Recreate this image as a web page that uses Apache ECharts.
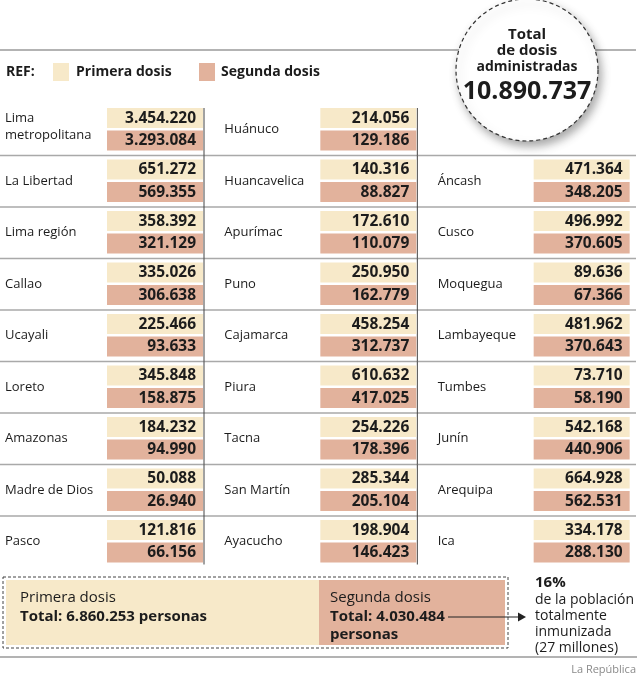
<!DOCTYPE html>
<html>
<head>
<meta charset="utf-8">
<script src="https://cdn.jsdelivr.net/npm/echarts@6/dist/echarts.min.js"></script>
<style>
html,body{margin:0;padding:0;background:#fff;}
#chart{width:640px;height:677px;}
</style>
</head>
<body>
<div id="chart"></div>
<script>
// ---- Data ----
const col0Names = ['Lima\nmetropolitana', 'La Libertad', 'Lima región', 'Callao', 'Ucayali', 'Loreto', 'Amazonas', 'Madre de Dios', 'Pasco'];
const col0Primera = [3454220, 651272, 358392, 335026, 225466, 345848, 184232, 50088, 121816];
const col0Segunda = [3293084, 569355, 321129, 306638, 93633, 158875, 94990, 26940, 66156];

const col1Names = ['Huánuco', 'Huancavelica', 'Apurímac', 'Puno', 'Cajamarca', 'Piura', 'Tacna', 'San Martín', 'Ayacucho'];
const col1Primera = [214056, 140316, 172610, 250950, 458254, 610632, 254226, 285344, 198904];
const col1Segunda = [129186, 88827, 110079, 162779, 312737, 417025, 178396, 205104, 146423];

// column 2 starts at row 1 (row 0 holds the total circle)
const col2Names = ['Áncash', 'Cusco', 'Moquegua', 'Lambayeque', 'Tumbes', 'Junín', 'Arequipa', 'Ica'];
const col2Primera = [471364, 496992, 89636, 481962, 73710, 542168, 664928, 334178];
const col2Segunda = [348205, 370605, 67366, 370643, 58190, 440906, 562531, 288130];

const totalDosis = '10.890.737';
const totalPrimera = '6.860.253';
const totalSegunda = '4.030.484';
const porcentaje = '16%';

// ---- Styles ----
const C_PRIMERA = '#f7e9c9';
const C_SEGUNDA = '#e2b29c';
const C_TEXT = '#1c1c1c';
const C_SEP = '#a9a9a9';
const FONT = '"Open Sans", "Noto Sans", sans-serif';

function fmt(v) { return String(v).replace(/\B(?=(\d{3})+(?!\d))/g, '.'); }

const rows = [];
function addCol(col, startRow, names, p, s) {
  names.forEach((n, i) => rows.push([col, startRow + i, p[i], s[i], n]));
}
addCol(0, 0, col0Names, col0Primera, col0Segunda);
addCol(1, 0, col1Names, col1Primera, col1Segunda);
addCol(2, 1, col2Names, col2Primera, col2Segunda);

const NROWS = 9;

function renderItem(params, api) {
  const col = api.value(0), row = api.value(1);
  const name = rows[params.dataIndex][4];
  const p = api.coord([col, row]);
  const sz = api.size([1, 1]);
  const bandH = sz[1];
  const x0 = p[0], y0 = p[1];
  const cellX = x0 + 107, cellW = 96, cellH = 20;
  const labelX = x0 + (col === 0 ? 5 : 11);
  const children = [];
  if (col === 0 && row < NROWS - 1) {
    children.push({
      type: 'line',
      shape: { x1: x0, y1: y0 + bandH, x2: x0 + 636, y2: y0 + bandH },
      style: { stroke: C_SEP, lineWidth: 1.6 }
    });
  }
  if (col < 2) {
    children.push({
      type: 'line',
      shape: { x1: x0 + 204, y1: y0 + (row === 0 ? 4 : 0), x2: x0 + 204, y2: y0 + bandH - (row === NROWS - 1 ? 3 : 0) },
      style: { stroke: '#444', lineWidth: 1 }
    });
  }
  children.push({
    type: 'rect',
    shape: { x: cellX, y: y0 + 4, width: cellW, height: cellH },
    style: { fill: C_PRIMERA }
  });
  children.push({
    type: 'rect',
    shape: { x: cellX, y: y0 + 26.5, width: cellW, height: cellH },
    style: { fill: C_SEGUNDA }
  });
  children.push({
    type: 'text',
    style: {
      text: fmt(api.value(2)), x: cellX + cellW - 7, y: y0 + 14.5,
      textAlign: 'right', textVerticalAlign: 'middle',
      fontFamily: FONT, fontWeight: 'bold', fontSize: 15.5, fill: C_TEXT
    }
  });
  children.push({
    type: 'text',
    style: {
      text: fmt(api.value(3)), x: cellX + cellW - 7, y: y0 + 37,
      textAlign: 'right', textVerticalAlign: 'middle',
      fontFamily: FONT, fontWeight: 'bold', fontSize: 15.5, fill: C_TEXT
    }
  });
  children.push({
    type: 'text',
    style: {
      text: name, x: labelX, y: y0 + bandH / 2 - (name.indexOf('\n') >= 0 ? 3 : 0),
      textAlign: 'left', textVerticalAlign: 'middle', lineHeight: 17,
      fontFamily: FONT, fontSize: 13, fill: C_TEXT
    }
  });
  return { type: 'group', children };
}

const chart = echarts.init(document.getElementById('chart'), null, { renderer: 'canvas' });

const txt = (text, x, y, size, bold, extra) => Object.assign({
  type: 'text', z: 20,
  style: Object.assign({
    text, x, y, fontFamily: FONT, fontSize: size, fontWeight: bold ? 'bold' : 'normal',
    fill: C_TEXT, textAlign: 'left', textVerticalAlign: 'middle'
  }, extra || {})
});

chart.setOption({
  backgroundColor: '#fff',
  animation: false,
  grid: { left: 0, top: 104, width: 645, height: 463.5 },
  xAxis: { type: 'value', min: 0, max: 3, show: false },
  yAxis: { type: 'value', min: 0, max: NROWS, inverse: true, show: false },
  series: [{
    type: 'custom',
    renderItem,
    data: rows,
    clip: false
  }],
  graphic: [
    { type: 'line', z: 1, shape: { x1: 0, y1: 50, x2: 636, y2: 50 }, style: { stroke: '#9a9a9a', lineWidth: 1.5 } },
    txt('REF:', 6, 72, 14, true),
    { type: 'rect', z: 20, shape: { x: 53, y: 63, width: 16, height: 18 }, style: { fill: C_PRIMERA } },
    txt('Primera dosis', 76, 72, 14, true),
    { type: 'rect', z: 20, shape: { x: 199, y: 63, width: 16, height: 18 }, style: { fill: C_SEGUNDA } },
    txt('Segunda dosis', 221, 72, 14, true),
    {
      type: 'circle', z: 10, shape: { cx: 527, cy: 70, r: 71 },
      style: {
        fill: '#fff', stroke: '#333', lineWidth: 1.2, lineDash: [4, 3],
        shadowBlur: 10, shadowColor: 'rgba(0,0,0,0.35)', shadowOffsetX: 3, shadowOffsetY: 5
      }
    },
    txt('Total', 527, 35, 15, true, { textAlign: 'center' }),
    txt('de dosis', 527, 51, 15, true, { textAlign: 'center' }),
    txt('administradas', 527, 67, 14, true, { textAlign: 'center' }),
    txt(totalDosis, 527, 92, 25, true, { textAlign: 'center' }),
    { type: 'rect', z: 5, shape: { x: 6, y: 580, width: 313, height: 65 }, style: { fill: C_PRIMERA } },
    { type: 'rect', z: 5, shape: { x: 319, y: 580, width: 186, height: 65 }, style: { fill: C_SEGUNDA } },
    { type: 'rect', z: 6, shape: { x: 3, y: 577, width: 505, height: 71 }, style: { fill: 'none', stroke: '#444', lineWidth: 1, lineDash: [3, 2] } },
    txt('Primera dosis', 20, 598, 15, false),
    txt('Total: ' + totalPrimera + ' personas', 20, 617, 15, true),
    txt('Segunda dosis', 330, 598, 15, false),
    txt('Total: ' + totalSegunda, 330, 617, 15, true),
    txt('personas', 330, 635, 15, true),
    { type: 'line', z: 20, shape: { x1: 448, y1: 617, x2: 519, y2: 617 }, style: { stroke: '#222', lineWidth: 1.2 } },
    { type: 'polygon', z: 20, shape: { points: [[518, 612.5], [526, 617], [518, 621.5]] }, style: { fill: '#222' } },
    txt(porcentaje, 535, 583, 15, true),
    txt('de la población', 535, 600, 14, false),
    txt('totalmente', 535, 616, 14, false),
    txt('inmunizada', 535, 632, 14, false),
    txt('(27 millones)', 535, 648, 14, false),
    { type: 'line', z: 1, shape: { x1: 0, y1: 657, x2: 637, y2: 657 }, style: { stroke: '#9a9a9a', lineWidth: 1.5 } },
    txt('La República', 636, 670, 11, false, { textAlign: 'right', fill: '#8a8a8a' })
  ]
});
</script>
</body>
</html>
